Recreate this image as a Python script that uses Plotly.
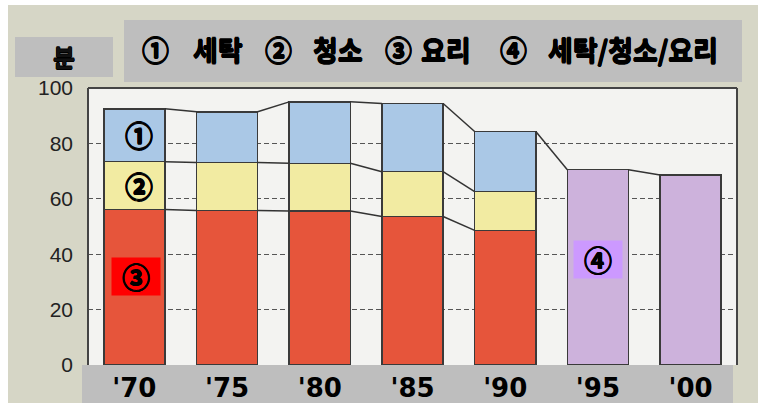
import plotly.graph_objects as go

# ---- data (minutes) ----
years = ["'70", "'75", "'80", "'85", "'90", "'95", "'00"]
cooking = [56.1, 55.8, 55.6, 53.6, 48.6, None, None]      # ③ 요리
cleaning = [17.3, 17.3, 17.2, 16.2, 14.0, None, None]     # ② 청소
laundry = [19.1, 18.3, 22.2, 24.6, 21.7, None, None]      # ① 세탁
combined = [None, None, None, None, None, 70.5, 68.6]     # ④ 세탁/청소/요리
y_ticks = [0, 20, 40, 60, 80, 100]
legend_items = ["①", "세탁", "②", "청소", "③", "요리", "④", "세탁/청소/요리"]

# ---- layout constants ----
W, H = 758, 403
L, R, T, B = 88, 21, 88, 38
PW, PH = W - L - R, H - T - B
BAR_W = 0.66
KR = "Noto Sans CJK KR"
HEAVY = "0.6px 0 0 #000, -0.6px 0 0 #000, 0 0.6px 0 #000, 0 -0.6px 0 #000"

def px(x):
    return (x - L) / PW

def py(y):
    return (H - B - y) / PH

xs = list(range(len(years)))
fig = go.Figure()

RED, YEL, BLU, PUR = "#e6553b", "#f2eba2", "#aac8e6", "#cdb2dc"
EDGE = dict(color="#3a3a3a", width=1.5)
for vals, col in [(cooking, RED), (cleaning, YEL), (laundry, BLU), (combined, PUR)]:
    fig.add_trace(go.Bar(x=xs, y=vals, width=BAR_W, marker=dict(color=col, line=EDGE),
                         showlegend=False, hoverinfo="skip"))

# connecting lines between neighbouring bars, at every stack boundary
def levels(i):
    if combined[i] is not None:
        return {"top": combined[i]}
    a = cooking[i]
    b = a + cleaning[i]
    c = b + laundry[i]
    return {"l1": a, "l2": b, "top": c}

lx, ly = [], []
for i in range(len(years) - 1):
    la, lb = levels(i), levels(i + 1)
    for k in la:
        if k in lb:
            lx += [i + BAR_W / 2, i + 1 - BAR_W / 2, None]
            ly += [la[k], lb[k], None]
fig.add_trace(go.Scatter(x=lx, y=ly, mode="lines", line=dict(color="#333333", width=1.5),
                         showlegend=False, hoverinfo="skip"))

shapes = [
    dict(type="rect", xref="paper", yref="paper", x0=px(0), x1=px(8), y0=py(H), y1=py(0),
         fillcolor="white", line=dict(width=0), layer="below"),
    dict(type="rect", xref="paper", yref="paper", x0=px(0), x1=px(W), y0=py(5), y1=py(0),
         fillcolor="white", line=dict(width=0), layer="below"),
    dict(type="rect", xref="paper", yref="paper", x0=px(124), x1=px(742), y0=py(82), y1=py(20),
         fillcolor="#bebebe", line=dict(width=0), layer="below"),
    dict(type="rect", xref="paper", yref="paper", x0=px(15), x1=px(113), y0=py(77), y1=py(37),
         fillcolor="#bebebe", line=dict(width=0), layer="below"),
    dict(type="rect", xref="paper", yref="paper", x0=px(82), x1=px(733), y0=py(H), y1=py(365),
         fillcolor="#bebebe", line=dict(width=0), layer="below"),
    dict(type="line", xref="paper", yref="paper", x0=0, x1=0, y0=0, y1=1, line=dict(color="#444", width=2)),
    dict(type="line", xref="paper", yref="paper", x0=0, x1=1, y0=1, y1=1, line=dict(color="#444", width=2)),
    dict(type="line", xref="paper", yref="paper", x0=1, x1=1, y0=0, y1=1, line=dict(color="#444", width=2)),
]

annotations = [
    dict(text="<b>분</b>", xref="paper", yref="paper", x=px(64), y=py(57), showarrow=False,
         xanchor="center", yanchor="middle",
         font=dict(family=KR, size=24, color="#111", shadow=HEAVY)),
]
legend_x = [155, 218, 278, 338, 398, 446, 513, 633]
for t, cx in zip(legend_items, legend_x):
    annotations.append(dict(text=f"<b>{t}</b>", xref="paper", yref="paper", x=px(cx), y=py(49),
                            xanchor="center", yanchor="middle", showarrow=False,
                            font=dict(family=KR, size=27, color="#000", shadow=HEAVY)))

# labels inside bars
lab_font = dict(family=KR, size=28, color="black", shadow=HEAVY)
annotations += [
    dict(text="<b>①</b>", x=0.05, y=cooking[0] + cleaning[0] + laundry[0] / 2, showarrow=False,
         xanchor="center", yanchor="middle", font=lab_font),
    dict(text="<b>②</b>", x=0.05, y=cooking[0] + cleaning[0] / 2, showarrow=False,
         xanchor="center", yanchor="middle", font=lab_font),
    dict(text="<b>③</b>", x=0.02, y=32, showarrow=False, bgcolor="#ff0000", width=46, height=35,
         xanchor="center", yanchor="middle", font=lab_font),
    dict(text="<b>④</b>", x=5.0, y=38, showarrow=False, bgcolor="#cc99ff", width=46, height=35,
         xanchor="center", yanchor="middle", font=lab_font),
]

fig.update_layout(
    width=W, height=H,
    margin=dict(l=L, r=R, t=T, b=B, pad=0, autoexpand=False),
    paper_bgcolor="#d6d6c6",
    plot_bgcolor="#f3f3f1",
    barmode="stack",
    shapes=shapes,
    annotations=annotations,
    xaxis=dict(range=[-0.5, 6.5], tickvals=xs, ticktext=[f"<b>{y}</b>" for y in years],
               showgrid=False, zeroline=False, showline=False, ticks="", automargin=False,
               tickfont=dict(family="DejaVu Sans", size=26, color="black"), ticklabelstandoff=5),
    yaxis=dict(range=[0, 100], tickvals=y_ticks, showgrid=True, gridcolor="#555555",
               griddash="5px,3px", gridwidth=1, zeroline=False, showline=False, ticks="",
               automargin=False,
               tickfont=dict(family="Liberation Sans", size=21, color="#222"),
               ticklabelstandoff=14),
)

fig.write_html("out.html")
